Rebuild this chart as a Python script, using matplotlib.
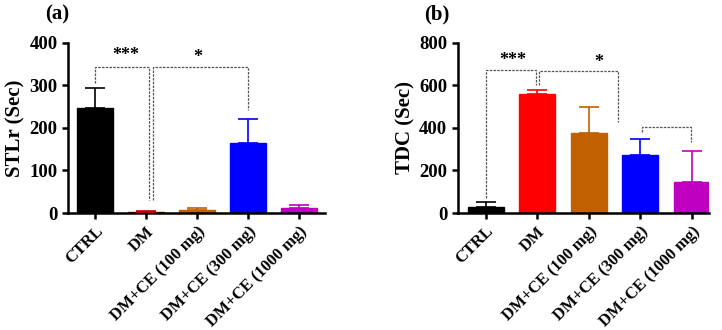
import numpy as np
import matplotlib.pyplot as plt

plt.rcParams['font.family'] = ['Liberation Serif', 'DejaVu Serif']
plt.rcParams['font.weight'] = 'bold'

groups = ["CTRL", "DM", "DM+CE (100 mg)", "DM+CE (300 mg)", "DM+CE (1000 mg)"]
colors_a = ["#000000", "#c00000", "#c06000", "#0000ff", "#c000c0"]
colors_b = ["#000000", "#ff0000", "#c06000", "#0000ff", "#c000c0"]

stlr_mean = [248, 3, 7, 165, 12]
stlr_err = [47, 2, 5, 57, 6]

tdc_mean = [30, 560, 376, 273, 146]
tdc_err = [24, 19, 123, 75, 146]

fig = plt.figure(figsize=(7.22, 3.30), dpi=100)
ax_a = fig.add_axes([0.094, 0.3545, 0.356, 0.5155])
ax_b = fig.add_axes([0.634, 0.3545, 0.348, 0.5155])

bracket_kw = dict(color="#555555", lw=0.9, linestyle=(0, (2, 1)))


def draw_panel(ax, means, errs, colors, ymax, ystep, ylabel, xlim):
    x = np.arange(len(groups))
    ax.bar(x, means, width=0.7, color=colors, edgecolor=colors, zorder=2)
    for xi, m, e, c in zip(x, means, errs, colors):
        ax.errorbar(xi, m, yerr=[[0], [e]], color=c, capsize=7,
                    elinewidth=1.2, capthick=1.2, zorder=3)
    ax.set_ylim(0, ymax)
    ax.set_xlim(*xlim)
    ax.set_yticks(np.arange(0, ymax + 1, ystep))
    ax.set_xticks(x)
    ax.set_xticklabels(groups, rotation=45, ha="right",
                       rotation_mode="anchor", fontsize=12, fontweight="bold")
    ax.tick_params(axis="y", labelsize=13.5, width=1.8, length=4)
    ax.tick_params(axis="x", width=1.8, length=4)
    for lab in ax.get_yticklabels():
        lab.set_fontweight("bold")
    for s in ["top", "right"]:
        ax.spines[s].set_visible(False)
    for s in ["left", "bottom"]:
        ax.spines[s].set_linewidth(1.8)
    ax.set_ylabel(ylabel, fontsize=15, fontweight="bold", labelpad=3)


draw_panel(ax_a, stlr_mean, stlr_err, colors_a, 400, 100, "STLr (Sec)", (-0.53, 4.5))
draw_panel(ax_b, tdc_mean, tdc_err, colors_b, 800, 200, "TDC (Sec)", (-0.54, 4.33))

# (a) significance brackets
ax_a.plot([0, 0, 1.05, 1.05], [306, 344, 344, 30], **bracket_kw)
ax_a.plot([1.13, 1.13, 3, 3], [30, 344, 344, 242], **bracket_kw)
ax_a.text(0.6, 370, "***", ha="center", va="center", fontsize=13)
ax_a.text(2.02, 366, "*", ha="center", va="center", fontsize=13)

# (b) significance brackets
ax_b.plot([0, 0, 0.97, 0.97], [70, 673, 673, 602], **bracket_kw)
ax_b.plot([1.04, 1.04, 2.56, 2.56], [602, 668, 668, 428], **bracket_kw)
ax_b.plot([3.03, 3.03, 3.98, 3.98], [381, 404, 404, 334], **bracket_kw)
ax_b.text(0.52, 715, "***", ha="center", va="center", fontsize=13)
ax_b.text(2.2, 710, "*", ha="center", va="center", fontsize=13)

fig.text(0.062, 0.955, "(a)", fontsize=15, fontweight="bold", va="center")
fig.text(0.587, 0.955, "(b)", fontsize=15, fontweight="bold", va="center")

fig.savefig("out.png", dpi=100)
